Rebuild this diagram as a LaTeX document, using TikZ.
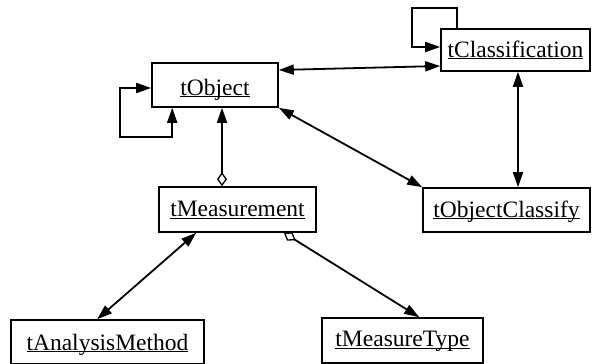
\documentclass[tikz,border=0pt]{standalone}
\usepackage{fontspec}
\setmainfont{Liberation Serif}
\usetikzlibrary{arrows.meta}
\newcommand{\ul}[1]{\underline{\smash{#1}}}
\begin{document}
\begin{tikzpicture}[x=1pt,y=-1pt,
  cls/.style={draw,line width=1.6pt,inner sep=0pt,text height=18pt,text depth=4pt,font=\fontsize{23.5}{28}\selectfont},
  link/.style={line width=1.8pt},
  tip/.tip={Triangle[length=15pt,width=10pt]},
  dia/.tip={Diamond[open,length=14pt,width=10pt,line width=1.3pt]}]
\useasboundingbox (0,0) rectangle (592,364);
\node[cls,minimum width=126pt,minimum height=44pt,text height=22pt,text depth=2pt] (obj) at (215,85) {\ul{tObject}};
\node[cls,minimum width=149pt,minimum height=42pt] (clf) at (515.5,50) {\ul{tClassification}};
\node[cls,minimum width=157pt,minimum height=45pt] (meas) at (237.5,209.5) {\ul{tMeasurement}};
\node[cls,minimum width=167pt,minimum height=44pt] (ocl) at (506.5,210) {\ul{tObjectClassify}};
\node[cls,minimum width=193pt,minimum height=44pt,text height=19pt,text depth=3pt] (am) at (107.5,342) {\ul{tAnalysisMethod}};
\node[cls,minimum width=161pt,minimum height=45pt,text height=17pt,text depth=5pt] (mt) at (402.5,340.5) {\ul{tMeasureType}};
\coordinate (oloop) at (120,137);
\coordinate (cloop) at (412,8);
% tObject self loop
\draw[link,{tip}-{tip}] ([xshift=21pt]obj.south west) |- (oloop) |- ([yshift=-3pt]obj.west);
% tClassification self loop
\draw[link,-{tip}] ([xshift=17pt]clf.north west) |- (cloop) |- ([yshift=3pt]clf.west);
% tObject - tClassification
\draw[link,{tip}-{tip}] ([yshift=15pt]obj.east) -- ([yshift=-16pt]clf.west);
% tObject - tObjectClassify
\draw[link,{tip}-{tip}] (obj.south east) -- (ocl.north west);
% tClassification - tObjectClassify
\draw[link,{tip}-{tip}] ([xshift=2.5pt]clf.south) -- ([xshift=2.5pt]clf.south |- ocl.north);
% tMeasurement - tObject
\draw[link,{dia}-{tip}] ([xshift=7pt]obj.south |- meas.north) -- ([xshift=7pt]obj.south);
% tMeasurement - tAnalysisMethod
\draw[link,{tip}-{tip}] ([xshift=38pt]meas.south west) -- ([xshift=87pt]am.north west);
% tMeasurement - tMeasureType
\draw[link,{dia}-{tip}] ([xshift=-33pt]meas.south east) -- ([xshift=98pt]mt.north west);
\end{tikzpicture}
\end{document}
